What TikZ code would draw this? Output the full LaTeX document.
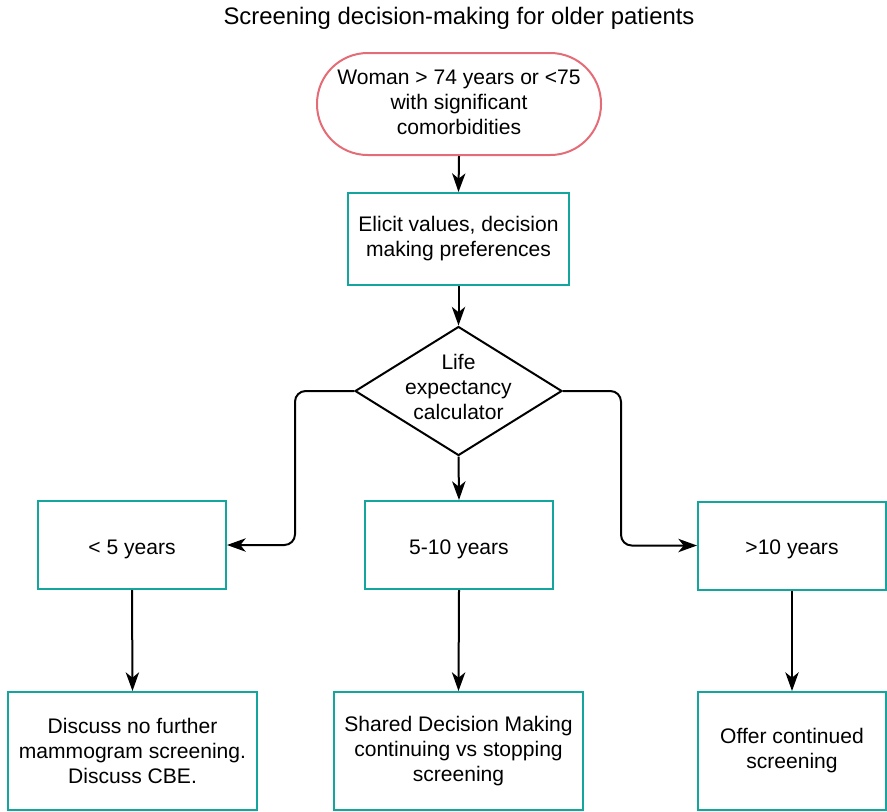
\documentclass[tikz,border=0pt]{standalone}
\usepackage{fontspec}
\setmainfont{Liberation Sans}
\usetikzlibrary{shapes.geometric,arrows.meta}
\definecolor{teal1}{RGB}{20,165,158}
\definecolor{pink1}{RGB}{228,108,118}
\begin{document}
\begin{tikzpicture}[x=0.75pt,y=-0.75pt,
 txt/.style={font=\fontsize{15.8}{18.75}\selectfont, align=center, inner sep=0pt},
 tbox/.style={txt, draw=teal1, line width=1.5pt, rectangle},
 ybox/.style={tbox, text depth=0pt, text height=14pt, minimum width=141pt, minimum height=66pt},
 arr/.style={line width=1.5pt, -{Stealth[length=14pt,width=10pt,inset=4pt]}},
]
\useasboundingbox (0,0) rectangle (887,811);

\node[txt, font=\fontsize{17.9}{21}\selectfont] (title) at (459,18) {Screening decision-making for older patients};

\node[txt, draw=pink1, line width=1.5pt, rounded corners=38pt, minimum width=213pt, minimum height=76.5pt] (start) at (459,104)
  {\raisebox{2.2pt}{\begin{tabular}{@{}c@{}}Woman > 74 years or <75\\with significant\\comorbidities\end{tabular}}};

\node[tbox, minimum width=165.75pt, minimum height=69pt] (elicit) at (458.5,239)
  {Elicit values, decision\\making preferences};

\node[diamond, draw, line width=1.5pt, inner sep=0pt, shape aspect=1.6, minimum width=155.25pt, minimum height=96.75pt] (lec) at (458.5,391) {};
\node[txt] (lectxt) at (458.5,386.5) {Life\\expectancy\\calculator};

\node[ybox] (lt) at (132,545) {< 5 years};
\node[ybox] (mid) at (459,545) {5-10 years};
\node[ybox] (gt) at (792,545.5) {>10 years};

\node[tbox, minimum width=186.75pt, minimum height=88.5pt] (b1) at (132.5,751)
  {Discuss no further\\mammogram screening.\\Discuss CBE.};
\node[tbox, minimum width=186.75pt, minimum height=88.5pt] (b2) at (458.5,751)
  {Shared Decision Making\\continuing vs stopping\\screening};
\node[tbox, minimum width=141pt, minimum height=88.5pt] (b3) at (792,751)
  {Offer continued\\screening};

\draw[arr] (start.south) -- (elicit.north);
\draw[arr] (elicit.south) -- (lec.north);
\draw[arr] (lec.south) -- (mid.north);
\draw[arr, rounded corners=8pt] (lec.west) -- ++(-59,0) |- (lt.east);
\draw[arr, rounded corners=8pt] (lec.east) -- ++(58,0) |- (gt.west);
\draw[arr] (lt.south) -- (b1.north);
\draw[arr] (mid.south) -- (b2.north);
\draw[arr] (gt.south) -- (b3.north);
\end{tikzpicture}
\end{document}
